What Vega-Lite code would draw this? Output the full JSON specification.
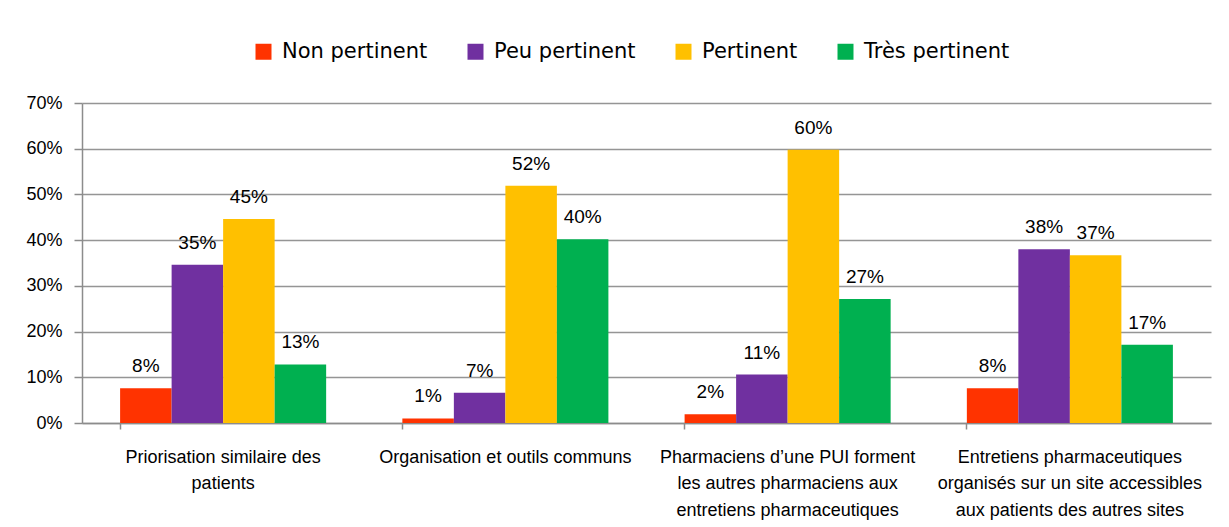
{
  "$schema": "https://vega.github.io/schema/vega-lite/v6.json",
  "width": 1129,
  "height": 320,
  "autosize": {"type": "none"},
  "padding": {"left": 82, "top": 103, "right": 18, "bottom": 104},
  "background": "white",
  "config": {
    "view": {"stroke": null},
    "font": "Liberation Sans"
  },
  "data": {
    "values": [
      {"categorie": "Priorisation similaire des\npatients", "niveau": "Non pertinent", "part": 0.076},
      {"categorie": "Priorisation similaire des\npatients", "niveau": "Peu pertinent", "part": 0.346},
      {"categorie": "Priorisation similaire des\npatients", "niveau": "Pertinent", "part": 0.446},
      {"categorie": "Priorisation similaire des\npatients", "niveau": "Très pertinent", "part": 0.128},
      {"categorie": "Organisation et outils communs", "niveau": "Non pertinent", "part": 0.01},
      {"categorie": "Organisation et outils communs", "niveau": "Peu pertinent", "part": 0.066},
      {"categorie": "Organisation et outils communs", "niveau": "Pertinent", "part": 0.519},
      {"categorie": "Organisation et outils communs", "niveau": "Très pertinent", "part": 0.402},
      {"categorie": "Pharmaciens d’une PUI forment\nles autres pharmaciens aux\nentretiens pharmaceutiques", "niveau": "Non pertinent", "part": 0.019},
      {"categorie": "Pharmaciens d’une PUI forment\nles autres pharmaciens aux\nentretiens pharmaceutiques", "niveau": "Peu pertinent", "part": 0.106},
      {"categorie": "Pharmaciens d’une PUI forment\nles autres pharmaciens aux\nentretiens pharmaceutiques", "niveau": "Pertinent", "part": 0.598},
      {"categorie": "Pharmaciens d’une PUI forment\nles autres pharmaciens aux\nentretiens pharmaceutiques", "niveau": "Très pertinent", "part": 0.271},
      {"categorie": "Entretiens pharmaceutiques\norganisés sur un site accessibles\naux patients des autres sites", "niveau": "Non pertinent", "part": 0.076},
      {"categorie": "Entretiens pharmaceutiques\norganisés sur un site accessibles\naux patients des autres sites", "niveau": "Peu pertinent", "part": 0.38},
      {"categorie": "Entretiens pharmaceutiques\norganisés sur un site accessibles\naux patients des autres sites", "niveau": "Pertinent", "part": 0.367},
      {"categorie": "Entretiens pharmaceutiques\norganisés sur un site accessibles\naux patients des autres sites", "niveau": "Très pertinent", "part": 0.171}
    ]
  },
  "encoding": {
    "x": {
      "field": "categorie",
      "type": "nominal",
      "sort": null,
      "scale": {"paddingInner": 0.27, "paddingOuter": 0.135},
      "axis": {
        "title": null,
        "labelAngle": 0,
        "bandPosition": 0,
        "grid": false,
        "domainColor": "#8c8c8c",
        "domainWidth": 1.5,
        "tickColor": "#8c8c8c",
        "tickWidth": 1.5,
        "tickSize": 6,
        "labelPadding": 19,
        "labelFont": "Liberation Sans",
        "labelFontSize": 18,
        "labelColor": "#000000",
        "labelLineHeight": 26.5,
        "labelLimit": 400,
        "labelExpr": "split(datum.label, '\\n')"
      }
    },
    "xOffset": {
      "field": "niveau",
      "type": "nominal",
      "sort": ["Non pertinent", "Peu pertinent", "Pertinent", "Très pertinent"],
      "scale": {"paddingInner": 0, "paddingOuter": 0}
    },
    "y": {
      "field": "part",
      "type": "quantitative",
      "scale": {"domain": [0, 0.7], "nice": false},
      "axis": {
        "title": null,
        "values": [0, 0.1, 0.2, 0.3, 0.4, 0.5, 0.6, 0.7],
        "format": ".0%",
        "grid": true,
        "gridColor": "#959595",
        "gridWidth": 1.5,
        "domainColor": "#8c8c8c",
        "domainWidth": 1.5,
        "tickColor": "#8c8c8c",
        "tickWidth": 1.5,
        "tickSize": 8,
        "labelPadding": 12,
        "labelFont": "Liberation Sans",
        "labelFontSize": 18,
        "labelColor": "#000000"
      }
    }
  },
  "layer": [
    {
      "mark": {"type": "bar"},
      "encoding": {
        "color": {
          "field": "niveau",
          "type": "nominal",
          "sort": ["Non pertinent", "Peu pertinent", "Pertinent", "Très pertinent"],
          "scale": {
            "domain": ["Non pertinent", "Peu pertinent", "Pertinent", "Très pertinent"],
            "range": ["#FF3300", "#7030A0", "#FFC000", "#00B050"]
          },
          "legend": {
            "title": null,
            "orient": "none",
            "legendX": 171,
            "legendY": -62,
            "direction": "horizontal",
            "symbolType": "square",
            "symbolSize": 256,
            "symbolStrokeWidth": 0,
            "labelFont": "DejaVu Sans",
            "labelFontSize": 21,
            "labelColor": "#000000",
            "labelOffset": 8,
            "columnPadding": 37,
            "labelLimit": 400
          }
        }
      }
    },
    {
      "mark": {
        "type": "text",
        "baseline": "alphabetic",
        "dy": -16,
        "font": "Liberation Sans",
        "fontSize": 19,
        "color": "#000000"
      },
      "encoding": {
        "text": {"field": "part", "type": "quantitative", "format": ".0%"}
      }
    }
  ]
}
